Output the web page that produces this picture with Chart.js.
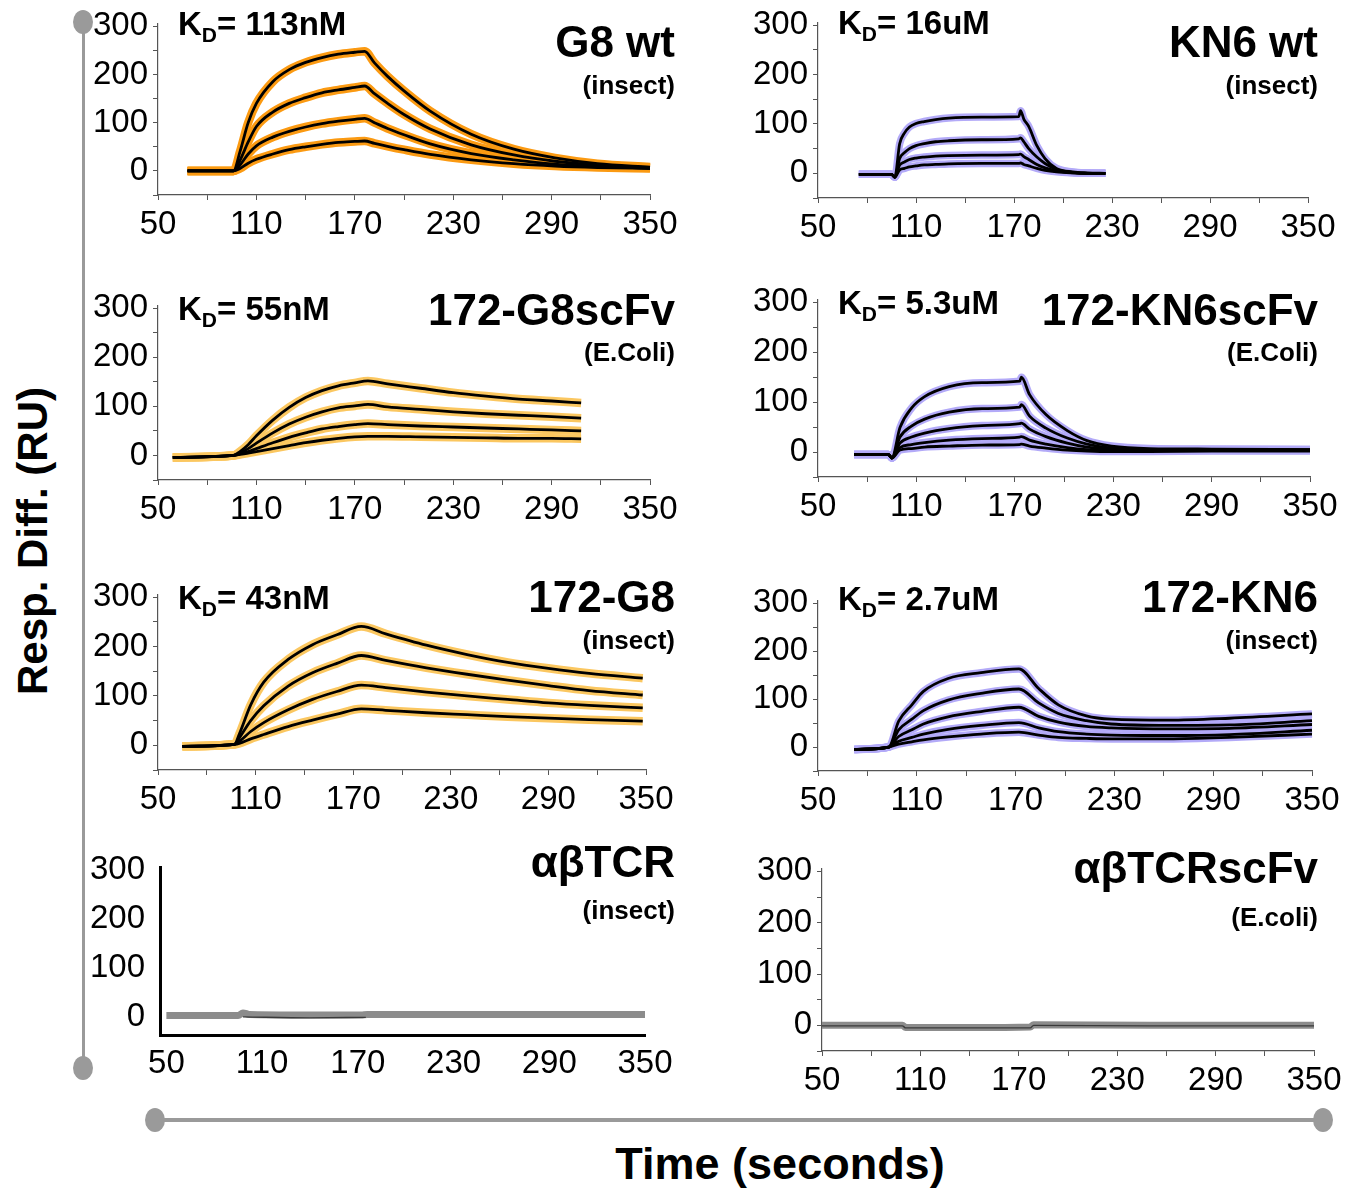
<!DOCTYPE html>
<html>
<head>
<meta charset="utf-8">
<script src="https://cdn.jsdelivr.net/npm/chart.js@4.4.1/dist/chart.umd.min.js"></script>
<style>
  body { margin: 0; background: #fff; width: 1351px; height: 1190px; position: relative; overflow: hidden;
         font-family: "Liberation Sans", Arial, sans-serif; }
  canvas { position: absolute; }
  .txt { position: absolute; font-weight: bold; white-space: nowrap; line-height: 1; color: #000; }
  .name { font-size: 44px; transform: translate(-100%, -50%); }
  .host { font-size: 26px; transform: translate(-100%, -50%); }
  .kd { font-size: 33px; transform: translate(0, -50%); }
  .kd sub { font-size: 21px; vertical-align: -7px; line-height: 0; }
  .deco { position: absolute; background: #9a9a9a; }
  .dot { position: absolute; width: 20px; height: 24px; border-radius: 50%; background: #9a9a9a; transform: translate(-50%, -50%); }
</style>
</head>
<body>
<script>
// x tick values (s) and the labelled ones
const xTicks = [50, 80, 110, 140, 170, 200, 230, 260, 290, 320, 350];
const xLabels = [50, 110, 170, 230, 290, 350];
const yTicks = [-50, 0, 50, 100, 150, 200, 250, 300];
const yLabels = [0, 100, 200, 300];

// G8 wt (insect)
const g8wtTime = [68, 96, 100, 105, 110, 120, 130, 140, 150, 160, 170, 176, 182, 190, 200, 216, 241, 267, 292, 318, 350];
const g8wtResp = [
  [0, 0, 40, 100, 140, 185, 210, 225, 235, 242, 246, 248, 224, 196, 166, 124, 76, 45, 27, 15, 8],
  [0, 0, 22, 60, 92, 122, 140, 152, 162, 168, 173, 176, 160, 140, 117, 87, 54, 33, 20, 12, 7],
  [0, 0, 12, 35, 52, 70, 82, 91, 98, 103, 107, 109, 100, 88, 75, 56, 36, 23, 14, 9, 6],
  [0, 0, 5, 16, 24, 35, 44, 50, 55, 59, 61, 62, 57, 51, 44, 34, 23, 15, 10, 7, 5]
];

// KN6 wt (insect)
const kn6wtTime = [75, 95, 97, 100, 103, 106, 110, 115, 122, 130, 150, 173, 174, 176, 179, 184, 189, 196, 206, 215, 226];
const kn6wtResp = [
  [-2, -2, -8, 60, 82, 94, 101, 105, 109, 112, 114, 115, 127, 110, 95, 56, 30, 10, 3, 1, 0],
  [-2, -2, -8, 30, 42, 50, 56, 60, 64, 66, 68, 70, 72, 64, 50, 33, 20, 8, 2, 0, 0],
  [-2, -2, -8, 17, 23, 28, 31, 33, 35, 36, 37, 38, 39, 34, 28, 18, 11, 5, 1, 0, 0],
  [-2, -2, -8, 7, 10, 13, 15, 17, 18, 19, 20, 20, 21, 18, 15, 10, 6, 3, 1, 0, 0]
];

// 172-G8scFv (E.Coli)
const g8scTime = [59, 96, 100, 105, 110, 120, 130, 140, 150, 160, 170, 178, 190, 210, 230, 250, 270, 290, 308];
const g8scResp = [
  [-4, 0, 8, 22, 40, 72, 98, 118, 132, 142, 148, 152, 146, 137, 128, 121, 115, 111, 107],
  [-4, 0, 5, 14, 25, 46, 64, 78, 89, 97, 101, 104, 99, 94, 89, 85, 82, 79, 76],
  [-4, 0, 3, 8, 14, 26, 37, 46, 54, 59, 63, 65, 63, 60, 58, 56, 54, 52, 50],
  [-4, 0, 2, 5, 8, 14, 20, 26, 31, 35, 38, 39, 39, 38, 37, 36, 35, 35, 34]
];

// 172-KN6scFv (E.Coli)
const kn6scTime = [72, 93, 95, 100, 107, 115, 130, 150, 173, 174, 179, 189, 202, 214, 229, 252, 290, 350];
const kn6scResp = [
  [-5, -5, -12, 49, 88, 111, 131, 139, 142, 150, 115, 75, 43, 23, 12, 7, 6, 5],
  [-5, -5, -12, 30, 52, 66, 80, 87, 90, 95, 72, 48, 28, 16, 8, 5, 5, 5],
  [-5, -5, -12, 18, 30, 38, 47, 53, 57, 58, 46, 31, 18, 10, 6, 4, 4, 4],
  [-5, -5, -12, 9, 15, 19, 24, 27, 30, 31, 24, 16, 9, 5, 3, 3, 3, 3],
  [-5, -5, -12, 4, 7, 10, 12, 14, 15, 16, 12, 8, 4, 2, 1, 1, 2, 2]
];

// 172-G8 (insect)
const g8Time = [65, 97, 100, 107, 115, 130, 145, 160, 175, 190, 215, 240, 265, 290, 315, 348];
const g8Resp = [
  [-2, 2, 23, 82, 128, 174, 204, 224, 241, 226, 203, 184, 168, 156, 146, 136],
  [-2, 2, 15, 50, 80, 120, 147, 166, 182, 172, 157, 144, 132, 121, 111, 102],
  [-2, 2, 8, 28, 46, 72, 93, 109, 122, 117, 108, 100, 93, 86, 81, 76],
  [-2, 2, 4, 13, 22, 38, 51, 63, 74, 71, 66, 62, 58, 55, 52, 49]
];

// 172-KN6 (insect)
const kn6Time = [72, 93, 99, 107, 114, 129, 149, 172, 184, 196, 213, 228, 263, 300, 350];
const kn6Resp = [
  [-5, 0, 54, 88, 116, 143, 155, 163, 122, 88, 65, 58, 56, 60, 69],
  [-5, 0, 36, 58, 76, 98, 112, 121, 92, 70, 55, 48, 45, 46, 55],
  [-5, 0, 22, 36, 48, 63, 74, 83, 64, 52, 43, 40, 38, 39, 47],
  [-5, 0, 12, 20, 27, 37, 45, 51, 40, 32, 27, 25, 24, 26, 35],
  [-5, 0, 6, 11, 15, 21, 27, 31, 25, 20, 18, 17, 17, 20, 27]
];

// abTCR (insect) - no binding
const tcrTime = [50, 95, 98, 102, 130, 172, 176, 200, 260, 350];
const tcrResp = [[4, 4, 9, 6, 5, 5, 6, 6, 6, 6]];
const tcrDarkTime = [98, 140, 175];
const tcrDarkResp = [1, -1, 0];

// abTCRscFv (E.coli) - no binding
const tcrscTime = [50, 99, 101, 140, 177, 179, 250, 350];
const tcrscResp = [[0, 0, -4, -4, -3, 1, 0, 0]];
const tcrscDarkResp = [-1, -1, -5, -5, -5, 0, -1, -1];

const ORANGE = '#fb9a12';
const YELLOW = '#fbc760';
const BLUE = '#b3aaf8';
const GREY = '#8c8c8c';
const FONT = '"Liberation Sans", Arial, sans-serif';

const YW = 90, XH = 60, PT = 20, PR = 40;

const panels = [
  { time: g8wtTime, resp: g8wtResp, halo: ORANGE, ax: 158, bx: 650, y0: 170, y300: 21,
    name: 'G8 wt', host: '(insect)', kd: '113nM', nameY: 42, hostY: 85, kdY: 23 },
  { time: kn6wtTime, resp: kn6wtResp, halo: BLUE, ax: 818, bx: 1308, y0: 173, y300: 21,
    name: 'KN6 wt', host: '(insect)', kd: '16uM', nameY: 42, hostY: 85, kdY: 22 },
  { time: g8scTime, resp: g8scResp, halo: YELLOW, ax: 158, bx: 650, y0: 455, y300: 304,
    name: '172-G8scFv', host: '(E.Coli)', kd: '55nM', nameY: 310, hostY: 352, kdY: 308 },
  { time: kn6scTime, resp: kn6scResp, halo: BLUE, ax: 818, bx: 1310, y0: 452, y300: 298,
    name: '172-KN6scFv', host: '(E.Coli)', kd: '5.3uM', nameY: 310, hostY: 352, kdY: 302 },
  { time: g8Time, resp: g8Resp, halo: YELLOW, ax: 158, bx: 646, y0: 745, y300: 593,
    name: '172-G8', host: '(insect)', kd: '43nM', nameY: 597, hostY: 640, kdY: 597 },
  { time: kn6Time, resp: kn6Resp, halo: BLUE, ax: 818, bx: 1312, y0: 746, y300: 598,
    name: '172-KN6', host: '(insect)', kd: '2.7uM', nameY: 597, hostY: 640, kdY: 598 },
  { time: tcrTime, resp: tcrResp, halo: GREY, dark: { time: tcrDarkTime, resp: tcrDarkResp },
    ax: 160, bx: 645, xmin: 46, y0: 1017, y300: 861, ymin: -36, heavy: true,
    name: 'αβTCR', host: '(insect)', nameY: 862, hostY: 910 },
  { time: tcrscTime, resp: tcrscResp, halo: GREY, dark: { time: tcrscTime, resp: tcrscDarkResp },
    ax: 822, bx: 1314, y0: 1025, y300: 867,
    name: 'αβTCRscFv', host: '(E.coli)', nameY: 868, hostY: 917 }
];

function addText(cls, html, x, y) {
  const d = document.createElement('div');
  d.className = 'txt ' + cls;
  d.innerHTML = html;
  d.style.left = x + 'px';
  d.style.top = y + 'px';
  document.body.append(d);
  return d;
}

function points(time, vals) {
  return time.map((t, i) => ({ x: t, y: vals[i] }));
}

function makePanel(p) {
  const xmin = p.xmin || 50, ymin = p.ymin !== undefined ? p.ymin : -50, ymax = 305;
  const pp = (p.y0 - p.y300) / 300;
  const yTop = p.y0 - ymax * pp;
  const yBot = p.y0 - ymin * pp;

  const canvas = document.createElement('canvas');
  canvas.width = Math.round(p.bx - p.ax + YW + PR);
  canvas.height = Math.round(yBot - yTop + PT + XH);
  canvas.style.left = Math.round(p.ax - YW) + 'px';
  canvas.style.top = Math.round(yTop - PT) + 'px';
  document.body.append(canvas);

  const grey = p.halo === GREY;
  const haloW = grey ? 7 : (p.halo === BLUE ? 7.5 : 8.5);
  const datasets = [];
  p.resp.forEach((r) => {
    datasets.push({ data: points(p.time, r), borderColor: p.halo, borderWidth: haloW, order: 1 });
    if (!grey) datasets.push({ data: points(p.time, r), borderColor: '#000', borderWidth: 2.8, order: 0 });
  });
  if (p.dark) {
    datasets.push({ data: points(p.dark.time, p.dark.resp), borderColor: '#3a3a3a', borderWidth: 1.4, order: 0 });
  }
  datasets.forEach((d) => {
    d.pointRadius = 0;
    d.cubicInterpolationMode = 'monotone';
    d.clip = false;
  });

  const axisColor = p.heavy ? '#000' : '#555';
  const axisW = p.heavy ? 3 : 1.2;
  const tickFont = { family: FONT, size: 33 };

  new Chart(canvas, {
    type: 'line',
    data: { datasets },
    options: {
      responsive: false,
      devicePixelRatio: 1,
      animation: false,
      events: [],
      layout: { autoPadding: false, padding: { left: 0, right: PR, top: PT, bottom: 0 } },
      plugins: { legend: { display: false }, tooltip: { enabled: false } },
      scales: {
        x: {
          type: 'linear', min: xmin, max: 350,
          afterBuildTicks: (s) => { s.ticks = xTicks.map((v) => ({ value: v })); },
          afterFit: (s) => { s.height = XH; },
          border: { color: axisColor, width: axisW },
          grid: { display: !p.heavy, drawOnChartArea: false, tickLength: 5, color: axisColor },
          ticks: { font: tickFont, color: '#000', padding: p.heavy ? 4 : 5, maxRotation: 0, autoSkip: false,
                   callback: (v) => (xLabels.includes(v) ? String(v) : '') }
        },
        y: {
          type: 'linear', min: ymin, max: ymax,
          afterBuildTicks: (s) => { s.ticks = yTicks.filter((v) => v >= ymin).map((v) => ({ value: v })); },
          afterFit: (s) => { s.width = YW; },
          border: { color: axisColor, width: axisW },
          grid: { display: !p.heavy, drawOnChartArea: false, tickLength: 5, color: axisColor },
          ticks: { font: tickFont, color: '#000', padding: p.heavy ? 10 : 5, autoSkip: false,
                   callback: (v) => (yLabels.includes(v) ? String(v) : '') }
        }
      }
    }
  });

  const right = p.ax > 500 ? 1318 : 675;
  addText('name', p.name, right, p.nameY);
  addText('host', p.host, right, p.hostY);
  if (p.kd) addText('kd', 'K<sub>D</sub>= ' + p.kd, p.ax + 20, p.kdY);
}

panels.forEach(makePanel);

// shared axis titles and grey guide bars
const yTitle = addText('', 'Resp. Diff. (RU)', 33, 541);
yTitle.style.fontSize = '42px';
yTitle.style.transform = 'translate(-50%, -50%) rotate(-90deg)';

const xTitle = addText('', 'Time (seconds)', 780, 1163);
xTitle.style.fontSize = '45px';
xTitle.style.transform = 'translate(-50%, -50%)';

function deco(l, t, w, h) {
  const d = document.createElement('div');
  d.className = 'deco';
  Object.assign(d.style, { left: l + 'px', top: t + 'px', width: w + 'px', height: h + 'px' });
  document.body.append(d);
}
function dot(x, y) {
  const d = document.createElement('div');
  d.className = 'dot';
  d.style.left = x + 'px';
  d.style.top = y + 'px';
  document.body.append(d);
}
deco(82, 22, 3, 1046);
dot(83, 22);
dot(83, 1068);
deco(155, 1118, 1168, 4);
dot(155, 1120);
dot(1323, 1120);
</script>
</body>
</html>
